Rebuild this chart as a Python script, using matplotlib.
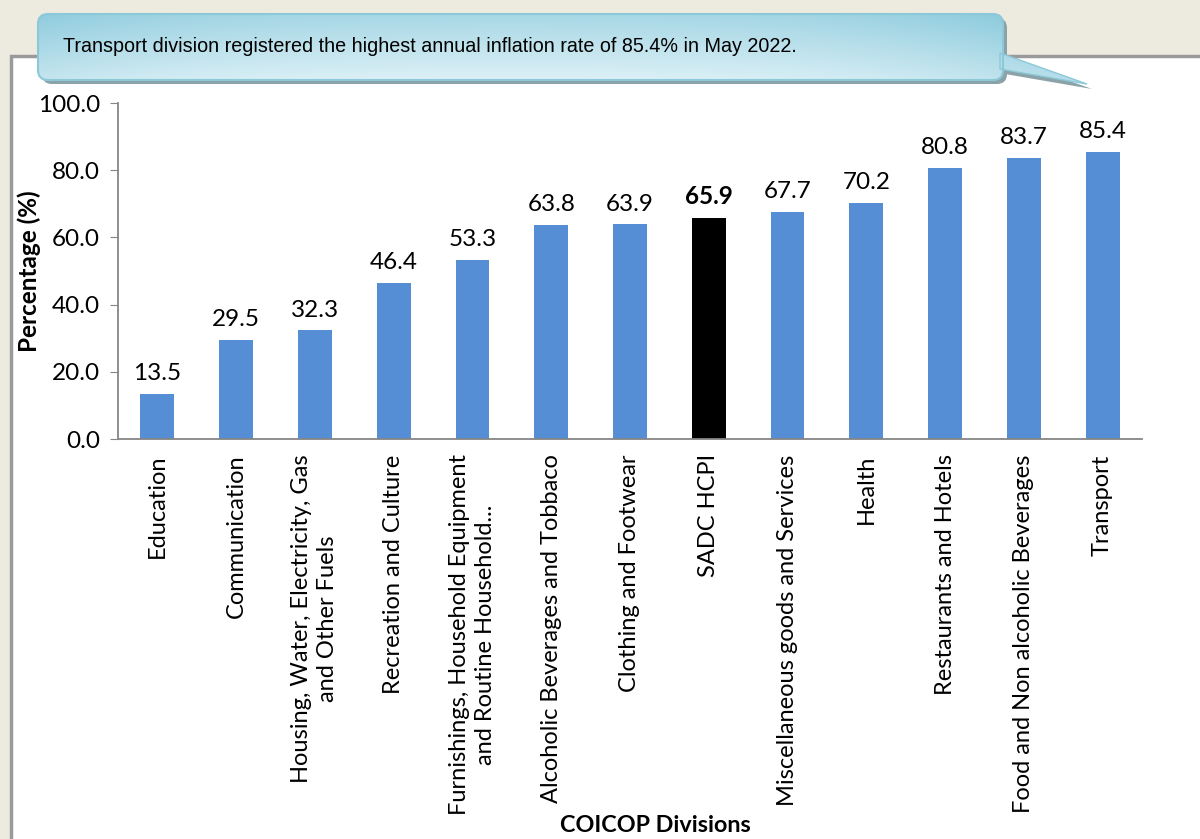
import numpy as np
import matplotlib
matplotlib.use('Agg')
import matplotlib.pyplot as plt
from matplotlib.patches import FancyBboxPatch, Polygon, Rectangle

# data
categories = ['Education', 'Communication', 'Housing, Water, Electricity, Gas\nand Other Fuels',
              'Recreation and Culture', 'Furnishings, Household Equipment\nand Routine Household...',
              'Alcoholic Beverages and Tobbaco', 'Clothing and Footwear', 'SADC HCPI',
              'Miscellaneous goods and Services', 'Health', 'Restaurants and Hotels',
              'Food and Non alcoholic Beverages', 'Transport']
values = [13.5, 29.5, 32.3, 46.4, 53.3, 63.8, 63.9, 65.9, 67.7, 70.2, 80.8, 83.7, 85.4]
highlight = 'SADC HCPI'
callout_text = 'Transport division registered the highest annual inflation rate of 85.4% in May 2022.'

W, H = 1200, 839
FS = 17.5
plt.rcParams['font.family'] = ['Lato', 'DejaVu Sans']

fig = plt.figure(figsize=(W / 100, H / 100), dpi=100)
fig.patch.set_facecolor('#edeae0')

# background panel
bg = fig.add_axes([0, 0, 1, 1], zorder=0)
bg.set_xlim(0, W)
bg.set_ylim(H, 0)
bg.axis('off')
bg.add_patch(Rectangle((11, 56), W, H, facecolor='white', edgecolor='#9a9a9a', lw=2.5))

# main chart
ax = fig.add_axes([118 / W, 1 - 439 / H, (1142 - 118) / W, (439 - 103) / H], zorder=1)
ax.patch.set_alpha(0)
x = np.arange(len(categories))
colors = ['black' if c == highlight else '#558ed5' for c in categories]
ax.bar(x, values, width=0.43, color=colors, zorder=2)
for xi, v, c in zip(x, values, categories):
    ax.annotate(f'{v:.1f}', (xi, v), xytext=(0, 7), textcoords='offset points',
                ha='center', va='bottom', fontsize=FS,
                fontweight='bold' if c == highlight else 'normal')

ax.set_xlim(-0.5, len(categories) - 0.5)
ax.set_ylim(0, 100)
ax.set_yticks(np.arange(0, 101, 20))
ax.set_yticklabels([f'{t:.1f}' for t in np.arange(0, 101, 20)], fontsize=FS)
ax.set_xticks(x)
ax.set_xticklabels(categories, rotation=90, fontsize=17, multialignment='center',
                   linespacing=1.3)
ax.tick_params(axis='x', length=0, pad=11)
ax.tick_params(axis='y', length=6, color='#868686', pad=7)
for s in ['top', 'right']:
    ax.spines[s].set_visible(False)
for s in ['left', 'bottom']:
    ax.spines[s].set_color('#868686')
    ax.spines[s].set_linewidth(1.3)
ax.set_ylabel('Percentage (%)', fontsize=FS, fontweight='bold')
ax.yaxis.set_label_coords((41 - 118) / 1024, 0.5)
fig.text(655 / W, 1 - 826 / H, 'COICOP Divisions', ha='center', va='center',
         fontsize=16.8, fontweight='bold')

# callout box
ov = fig.add_axes([0, 0, 1, 1], zorder=3)
ov.axis('off')
x0, y0, x1, y1 = 38, 14, 1003, 80
tail = [(x1 - 3, 53), (1087, 84), (x1 - 3, 69)]
# shadow
ov.add_patch(FancyBboxPatch((x0 + 4, y0 + 4), x1 - x0, y1 - y0,
                            boxstyle='round,pad=0,rounding_size=10',
                            facecolor='#8aa2a8', edgecolor='none', zorder=1))
ov.add_patch(Polygon([(tx + 5, ty + 5) for tx, ty in tail], closed=True,
                     facecolor='#8aa2a8', edgecolor='none', zorder=1))
box = FancyBboxPatch((x0, y0), x1 - x0, y1 - y0, boxstyle='round,pad=0,rounding_size=10',
                     facecolor='none', edgecolor='#8cc9d8', lw=1.5, zorder=3)
tri = Polygon(tail, closed=True, facecolor='none', edgecolor='#8cc9d8', lw=1, zorder=3)
ov.add_patch(box)
ov.add_patch(tri)
# gradient fill clipped to the shapes
gy = np.linspace(0, 1, 100)[:, None]
gx = np.linspace(0, 1, 400)[None, :]
mix = np.clip(0.3 + 0.7 * gy - 0.4 * (np.abs(gx - 0.45) * 2) ** 3, 0, 1)
c_dark = np.array([0.56, 0.80, 0.87])
c_light = np.array([0.88, 0.95, 0.97])
img = c_dark[None, None, :] * (1 - mix[..., None]) + c_light[None, None, :] * mix[..., None]
for patch in (box, tri):
    im = ov.imshow(img, extent=(x0, 1090, y1 + 6, y0), aspect='auto', zorder=2,
                   interpolation='bilinear')
    im.set_clip_path(patch)
ov.set_xlim(0, W)
ov.set_ylim(H, 0)
ov.text(63, 46, callout_text, ha='left', va='center', fontsize=14.2, zorder=4,
        family=['Liberation Sans Narrow', 'Liberation Sans', 'DejaVu Sans'])

fig.savefig('out.png', dpi=100, facecolor=fig.get_facecolor())
